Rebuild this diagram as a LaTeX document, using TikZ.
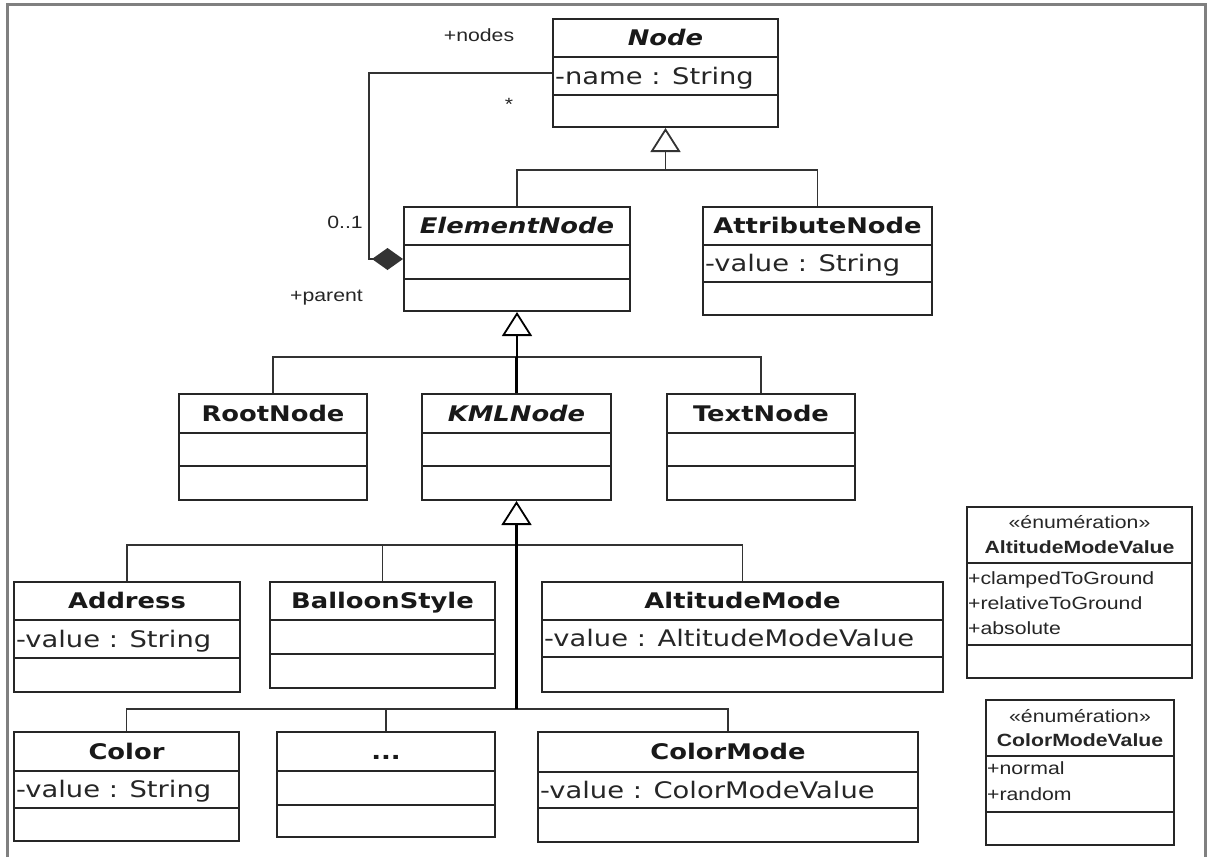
\documentclass[tikz,border=0pt]{standalone}
\usepackage{fontspec}
\setmainfont{DejaVu Sans}[FakeStretch=1.2]
\newfontfamily\labfont{Liberation Sans}[FakeStretch=1.2]
\usetikzlibrary{arrows.meta,calc,fit}
\tikzset{
  frame/.style={draw=black!50, line width=3pt},
  box/.style={draw=black!85, line width=2pt, inner sep=0pt, fill=white},
  sep/.style={draw=black!85, line width=1.9pt},
  ttl/.style={font=\fontsize{21.5}{24}\selectfont\bfseries, inner sep=0pt, text height=15.7pt, text depth=0pt, text=black!90},
  attr/.style={font=\fontsize{22.8}{26}\selectfont, inner sep=0pt, anchor=west, text height=16.6pt, text depth=0pt, text=black!85},
  lab/.style={font=\labfont\fontsize{17.7}{20}\selectfont, inner sep=0pt, text height=12.6pt, text depth=0pt, text=black!85},
  labb/.style={lab, font=\labfont\fontsize{17.7}{20}\selectfont\bfseries},
  conn/.style={draw=black!80, line width=1.9pt},
  trunk/.style={draw=black, line width=2.8pt},
  gen/.style={-{Triangle[fill=white, length=24pt, width=30pt, line width=1.8pt]}},
  compo/.style={-{Diamond[length=31pt, width=22pt]}},
}
\newcommand\umlclass[9]{%
  \node[box, fit={(#2,#3) (#4,#7)}] (#1) {};
  \draw[sep] (#2,#5) -- (#4,#5);
  \draw[sep] (#2,#6) -- (#4,#6);
  \node[ttl] (#1-t) at ({(#2+#4)/2},{(#3+#5)/2}) {#8};
  \if\relax\detokenize{#9}\relax\else
  \node[attr] (#1-a) at ({#2+2},{(#5+#6)/2}) {#9};\fi
}
\begin{document}
\begin{tikzpicture}[x=1pt, y=-1pt]
\useasboundingbox (0,0) rectangle (1207,857);
\draw[frame] (7,857) -- (7,4) -- (1205,4) -- (1205,857);

% classes
\umlclass{Node}{553}{19}{778}{57}{95}{127}{\itshape Node}{-name : String}
\umlclass{ElementNode}{404}{207}{630}{245}{279}{311}{\itshape ElementNode}{}
\umlclass{AttributeNode}{703}{207}{932}{245}{282}{315}{AttributeNode}{-value : String}
\umlclass{RootNode}{179}{394}{367}{433}{466}{500}{RootNode}{}
\umlclass{KMLNode}{422}{394}{611}{433}{466}{500}{\itshape KMLNode}{}
\umlclass{TextNode}{667}{394}{855}{433}{466}{500}{TextNode}{}
\umlclass{Address}{14}{582}{240}{620}{658}{692}{Address}{-value : String}
\umlclass{BalloonStyle}{270}{582}{495}{620}{654}{688}{BalloonStyle}{}
\umlclass{AltitudeMode}{542}{582}{943}{620}{657}{692}{AltitudeMode}{-value : AltitudeModeValue}
\umlclass{Color}{14}{732}{239}{771}{808}{841}{Color}{-value : String}
\umlclass{Dots}{277}{732}{495}{771}{805}{837}{...}{}
\umlclass{ColorMode}{538}{732}{918}{772}{808}{842}{ColorMode}{-value : ColorModeValue}

% enumerations
\node[box, fit={(967,507) (1192,678)}] (AMV) {};
\draw[sep] (967,563) -- (1192,563);
\draw[sep] (967,645) -- (1192,645);
\node[lab] (AMV-s) at (1079.5,522) {«énumération»};
\node[labb] (AMV-t) at (1079.5,547) {AltitudeModeValue};
\node[lab, anchor=west] (AMV-1) at (968,578) {+clampedToGround};
\node[lab, anchor=west] (AMV-2) at (968,603) {+relativeToGround};
\node[lab, anchor=west] (AMV-3) at (968,628) {+absolute};

\node[box, fit={(986,700) (1174,845)}] (CMV) {};
\draw[sep] (986,756) -- (1174,756);
\draw[sep] (986,812) -- (1174,812);
\node[lab] (CMV-s) at (1080,716) {«énumération»};
\node[labb] (CMV-t) at (1080,740) {ColorModeValue};
\node[lab, anchor=west] (CMV-1) at (987,768) {+normal};
\node[lab, anchor=west] (CMV-2) at (987,794) {+random};

% generalisations
\coordinate (j1) at (Node.south |- 0,170);
\draw[conn] (ElementNode.north) |- (j1);
\draw[conn] (AttributeNode.north) |- (j1);
\draw[conn, gen] (j1) -- (Node.south);

\coordinate (j2) at (ElementNode.south |- 0,357);
\draw[conn] (RootNode.north) |- (j2);
\draw[conn] (TextNode.north) |- (j2);
\draw[trunk] (KMLNode.north) -- (KMLNode.north |- j2);
\draw[trunk, gen] (j2) -- (ElementNode.south);

\coordinate (j3) at (KMLNode.south |- 0,545);
\coordinate (j4) at (KMLNode.south |- 0,709);
\draw[conn] (Address.north) |- (j3);
\draw[conn] (AltitudeMode.north) |- (j3);
\draw[conn] (BalloonStyle.north) -- (BalloonStyle.north |- j3);
\draw[conn] (Color.north) |- (j4);
\draw[conn] (ColorMode.north) |- (j4);
\draw[conn] (Dots.north) -- (Dots.north |- j4);
\draw[trunk] (j4) -- (j3);
\draw[trunk, gen] (j3) -- (KMLNode.south);

% composition
\coordinate (c1) at (369,160);
\draw[conn, compo] (Node.west) -| (c1) |- (ElementNode.west);
\node[lab] (lblnodes) at (479,35) {+nodes};
\node[lab] (lblstar) at (509,104) {*};
\node[lab] (lbl01) at (345,222) {0..1};
\node[lab, anchor=east] (lblparent) at (363,295) {+parent};
\end{tikzpicture}
\end{document}
